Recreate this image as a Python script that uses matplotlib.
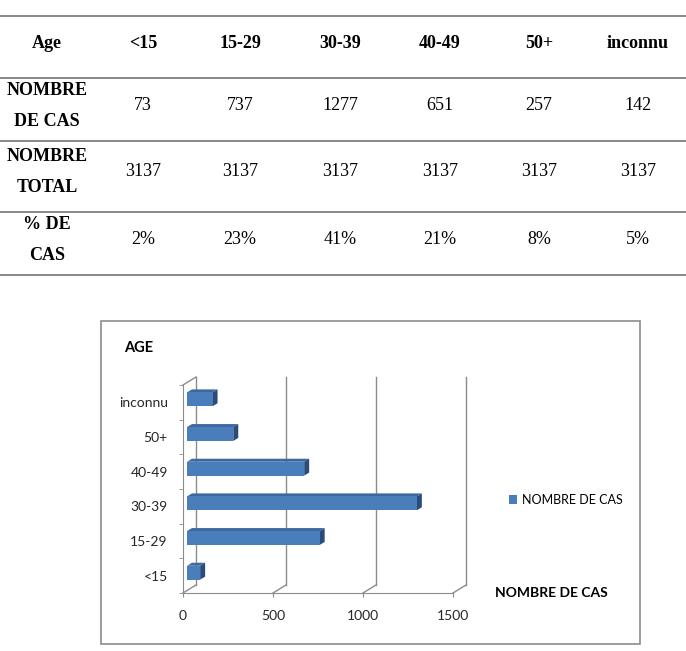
import matplotlib
matplotlib.use("Agg")
import matplotlib.pyplot as plt
from matplotlib.lines import Line2D
from matplotlib.patches import Polygon, Rectangle
from matplotlib.transforms import IdentityTransform, offset_copy

age_groups = ["<15", "15-29", "30-39", "40-49", "50+", "inconnu"]
nombre_cas = [73, 737, 1277, 651, 257, 142]
nombre_total = [3137, 3137, 3137, 3137, 3137, 3137]
pct_cas = ["2%", "23%", "41%", "21%", "8%", "5%"]
row_labels = ["NOMBRE\nDE CAS", "NOMBRE\nTOTAL", "% DE\nCAS"]
x_ticks = [0, 500, 1000, 1500]

W, H = 686, 651
GRID = "#8c8c8c"
BLUE = "#4a7ebb"
BLUE_TOP = "#3c68a2"
BLUE_SIDE = "#2a4c7d"
SERIF = "Liberation Serif"
SANS = "Lato"

# fake 3D offsets in pixels (x right, y up)
WALL = (13, 8)
BAR_FRONT = (4, 3)
BAR_DEPTH = (5, 3)
BAR_H = 0.4


def fx(px):
    return px / W


def fy(py):
    return 1 - py / H


def shifted(ax, x, y, d):
    px, py = ax.transData.transform((x, y))
    return px + d[0], py + d[1]


def main():
    fig = plt.figure(figsize=(W / 100, H / 100), dpi=100)

    # background axes in pixel coordinates for the table and the chart frame
    bg = fig.add_axes([0, 0, 1, 1])
    bg.set_xlim(0, W)
    bg.set_ylim(H, 0)
    bg.axis("off")

    col_x = [47, 143, 240, 340, 440, 539, 638]
    row_y = [43, 106, 172, 240]
    bg.hlines([16, 78, 141, 212, 275], 0, W, color="#7f7f7f", lw=1.3)

    header = ["Age"] + age_groups
    for x, txt in zip(col_x, header):
        bg.text(x, row_y[0], txt, ha="center", va="center", fontsize=13,
                fontweight="bold", family=SERIF)

    rows = [nombre_cas, nombre_total, pct_cas]
    for y, label, values in zip(row_y[1:], row_labels, rows):
        top, bottom = label.split("\n")
        bg.text(col_x[0], y - 15.5, top, ha="center", va="center",
                fontsize=13, fontweight="bold", family=SERIF)
        bg.text(col_x[0], y + 15.5, bottom, ha="center", va="center",
                fontsize=13, fontweight="bold", family=SERIF)
        for x, v in zip(col_x[1:], values):
            bg.text(x, y, str(v), ha="center", va="center", fontsize=13,
                    family=SERIF)

    bg.add_patch(Rectangle((101, 321), 539, 323, fill=False,
                           edgecolor=GRID, lw=1.2))
    bg.text(124, 348, "AGE", ha="left", va="center", fontsize=10.5,
            fontweight="bold", family=SANS)
    bg.text(495, 593, "NOMBRE DE CAS", ha="left", va="center", fontsize=10,
            fontweight="bold", family=SANS)

    # chart: front plane of the 3D box
    ax = fig.add_axes([fx(183), fy(593), 270 / W, 208 / H])
    ax.set_xlim(0, 1500)
    ax.set_ylim(-0.5, len(age_groups) - 0.5)
    ax.patch.set_visible(False)
    for side in ["top", "right"]:
        ax.spines[side].set_visible(False)
    for side in ["left", "bottom"]:
        ax.spines[side].set_color(GRID)

    ax.set_xticks(x_ticks)
    ax.set_xticklabels([str(t) for t in x_ticks], family=SANS, fontsize=10,
                       color="#262626")
    ax.tick_params(axis="x", direction="out", length=3, color=GRID, pad=9)
    ax.set_yticks(range(len(age_groups)))
    ax.set_yticklabels(age_groups, family=SANS, fontsize=10, color="#262626")
    ax.tick_params(axis="y", which="major", length=0, pad=11)
    ax.set_yticks([i - 0.5 for i in range(len(age_groups) + 1)], minor=True)
    ax.tick_params(axis="y", which="minor", direction="out", length=3,
                   color=GRID)

    # back wall gridlines and floor diagonals
    back = offset_copy(ax.transData, fig=fig, x=WALL[0], y=WALL[1],
                       units="dots")
    y0, y1 = ax.get_ylim()
    for t in x_ticks:
        ax.plot([t, t], [y0, y1], transform=back, color=GRID, lw=1,
                clip_on=False)
        p0 = shifted(ax, t, y0, (0, 0))
        p1 = shifted(ax, t, y0, WALL)
        ax.add_line(Line2D([p0[0], p1[0]], [p0[1], p1[1]], color=GRID, lw=1,
                           transform=IdentityTransform(), clip_on=False))
    p0 = shifted(ax, 0, y1, (0, 0))
    p1 = shifted(ax, 0, y1, WALL)
    ax.add_line(Line2D([p0[0], p1[0]], [p0[1], p1[1]], color=GRID, lw=1,
                       transform=IdentityTransform(), clip_on=False))

    # bars with top and side faces
    front = offset_copy(ax.transData, fig=fig, x=BAR_FRONT[0], y=BAR_FRONT[1],
                        units="dots")
    bars = ax.barh(range(len(age_groups)), nombre_cas, height=BAR_H,
                   color=BLUE, label="NOMBRE DE CAS", zorder=3)
    deep = (BAR_FRONT[0] + BAR_DEPTH[0], BAR_FRONT[1] + BAR_DEPTH[1])
    for i, (b, v) in enumerate(zip(bars, nombre_cas)):
        b.set_transform(front)
        b.set_clip_on(False)
        top = i + BAR_H / 2
        bot = i - BAR_H / 2
        top_face = [shifted(ax, 0, top, BAR_FRONT), shifted(ax, v, top, BAR_FRONT),
                    shifted(ax, v, top, deep), shifted(ax, 0, top, deep)]
        side_face = [shifted(ax, v, bot, BAR_FRONT), shifted(ax, v, top, BAR_FRONT),
                     shifted(ax, v, top, deep), shifted(ax, v, bot, deep)]
        ax.add_patch(Polygon(top_face, closed=True, facecolor=BLUE_TOP,
                             edgecolor="none", transform=IdentityTransform(),
                             clip_on=False, zorder=2))
        ax.add_patch(Polygon(side_face, closed=True, facecolor=BLUE_SIDE,
                             edgecolor="none", transform=IdentityTransform(),
                             clip_on=False, zorder=2))

    ax.legend(handles=[bars], labels=["NOMBRE DE CAS"], loc="center left",
              bbox_to_anchor=(fx(509), fy(500)), bbox_transform=fig.transFigure,
              frameon=False, prop={"family": SANS, "size": 9},
              handlelength=0.65, handleheight=0.65, handletextpad=0.35,
              borderpad=0, borderaxespad=0)

    fig.savefig("out.png", dpi=100)


if __name__ == "__main__":
    main()
